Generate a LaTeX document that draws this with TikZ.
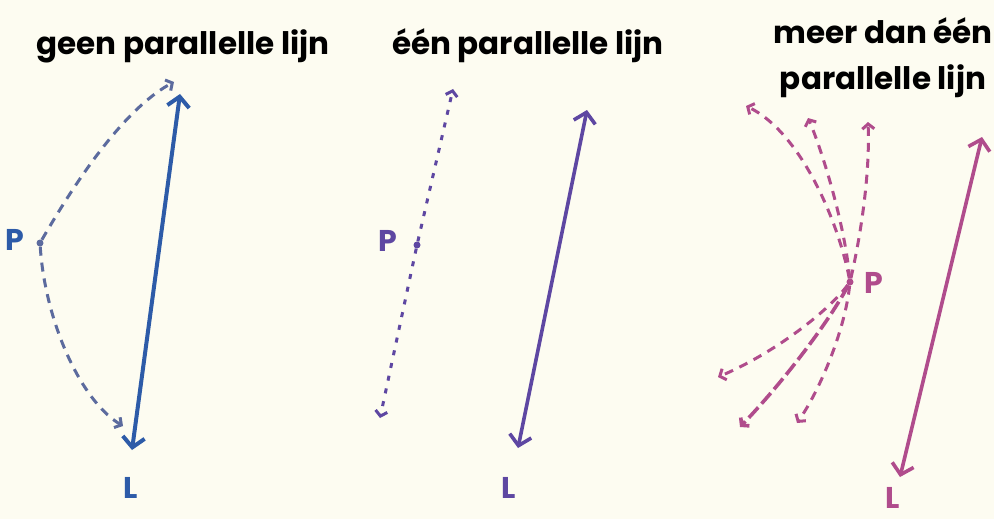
\documentclass[tikz,border=0pt]{standalone}
\usepackage{fontspec}
\setmainfont{Poppins}
\usetikzlibrary{arrows.meta}

\definecolor{paper}{HTML}{FDFCF1}
\definecolor{blueL}{HTML}{2D5BA8}
\definecolor{blueray}{HTML}{5C6B9E}
\definecolor{purpleL}{HTML}{5E47A2}
\definecolor{pinkL}{HTML}{B04C8C}

\tikzset{
  title/.style={font=\fontsize{31}{46}\selectfont\bfseries, align=center, text=black},
  label/.style={font=\fontsize{30}{34}\selectfont\bfseries},
  lijn/.style={line width=3.6pt, line cap=round, {Straight Barb[length=10pt,width=22pt]}-{Straight Barb[length=10pt,width=22pt]}},
  ray/.style={line width=3pt, dash pattern=on 9pt off 7pt, -{Straight Barb[length=5pt,width=12pt]}},
  dot/.style={circle, inner sep=0pt, minimum size=7pt, fill},
}

\begin{document}
\begin{tikzpicture}[x=1pt, y=-1pt]
	\fill[paper] (0,0) rectangle (994,519);
	\useasboundingbox (0,0) rectangle (994,519);

	% geen parallelle lijn
	\node[title] (t1) at (183,46) {geen parallelle lijn};
	\node[dot, blueray] (p1) at (40,243) {};
	\node[label, blueL] at (15,240) {P};
	\coordinate (l1a) at (180,94);
	\coordinate (l1b) at (132,450);
	\draw[lijn, blueL, line width=4pt] (l1a) -- (l1b);
	\node[label, blueL] at (131,488) {L};
	\coordinate (r1a) at (174,82);
	\coordinate (r1b) at (123,426);
	\draw[ray, blueray] (p1) .. controls (65,200) and (118,112) .. (r1a);
	\draw[ray, blueray] (p1) .. controls (45,320) and (80,400) .. (r1b);

	% een parallelle lijn
	\node[title] (t2) at (528,46) {één parallelle lijn};
	\node[dot, purpleL] (p2) at (417,245) {};
	\node[label, purpleL] at (388,241) {P};
	\coordinate (l2a) at (587,110);
	\coordinate (l2b) at (518,448);
	\draw[lijn, purpleL] (l2a) -- (l2b);
	\node[label, purpleL] at (509,488) {L};
	\coordinate (d2a) at (453,89);
	\coordinate (d2b) at (380,418);
	\draw[ray, purpleL, dash pattern=on 5pt off 8pt] (p2) -- (d2a);
	\draw[ray, purpleL, dash pattern=on 5pt off 8pt] (p2) -- (d2b);

	% meer dan een parallelle lijn
	\node[title] (t3) at (883,58) {meer dan één\\parallelle lijn};
	\node[dot, pinkL] (p3) at (850,282) {};
	\node[label, pinkL] at (874,283) {P};
	\coordinate (l3a) at (982,137);
	\coordinate (l3b) at (900,477);
	\draw[lijn, pinkL] (l3a) -- (l3b);
	\node[label, pinkL] at (893,498) {L};
	\coordinate (r3a) at (746,106);
	\coordinate (r3b) at (808,118);
	\coordinate (r3c) at (868,122);
	\coordinate (r3d) at (718,377);
	\coordinate (r3e) at (740,427);
	\coordinate (r3f) at (797,423);
	\draw[ray, pinkL] (p3) .. controls (838,220) and (800,132) .. (r3a);
	\draw[ray, pinkL] (p3) .. controls (845,225) and (822,150) .. (r3b);
	\draw[ray, pinkL] (p3) .. controls (862,230) and (870,170) .. (r3c);
	\draw[ray, pinkL] (p3) .. controls (825,315) and (770,355) .. (r3d);
	\draw[ray, pinkL, line width=3.6pt, dash pattern=on 14pt off 5pt] (p3) .. controls (830,320) and (785,380) .. (r3e);
	\draw[ray, pinkL] (p3) .. controls (845,330) and (820,390) .. (r3f);
\end{tikzpicture}
\end{document}
